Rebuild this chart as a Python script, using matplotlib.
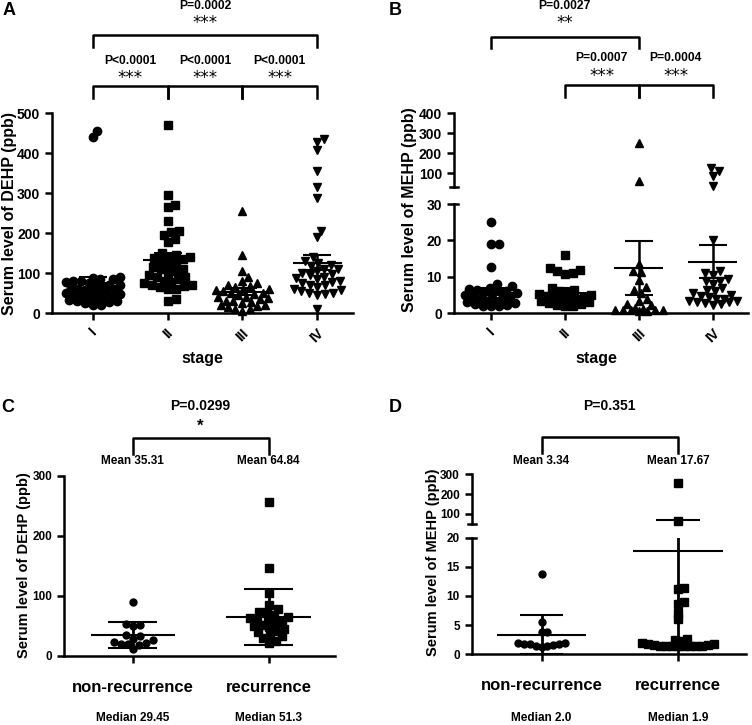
import numpy as np
import matplotlib
matplotlib.use("Agg")
import matplotlib.pyplot as plt
from matplotlib.transforms import blended_transform_factory

plt.rcParams['font.family'] = ['Liberation Sans', 'DejaVu Sans']
plt.rcParams['font.weight'] = 'bold'
plt.rcParams['axes.linewidth'] = 1.8

# ---- data ----
stages = ['I', 'II', 'III', 'IV']

dehp_I = [456, 440, 90, 88, 87, 85, 82, 80, 78, 75, 72, 70, 68, 66, 64, 62, 60, 58,
          56, 55, 53, 50, 48, 46, 44, 42, 40, 38, 36, 34, 32, 30, 28, 25, 22, 20]
dehp_II = [470, 295, 272, 265, 232, 205, 203, 195, 186, 178, 152, 145, 142, 140, 138,
           135, 130, 125, 120, 115, 112, 110, 105, 100, 95, 92, 90, 85, 80, 78, 75, 72,
           70, 68, 65, 62, 60, 35, 30]
dehp_III = [255, 145, 105, 92, 80, 75, 70, 68, 65, 62, 60, 58, 55, 52, 50, 48, 45, 42,
            40, 38, 35, 32, 30, 28, 25, 22, 20, 18, 15, 12, 10, 5]
dehp_IV = [435, 428, 408, 355, 315, 288, 207, 190, 140, 130, 125, 120, 118, 112, 110,
           105, 100, 98, 95, 92, 88, 85, 80, 78, 75, 72, 70, 65, 62, 58, 55, 52, 50, 48,
           45, 12]
dehp_mean = [76, 133, 54, 127]
dehp_lo = [62, 117, 46, 108]
dehp_hi = [90, 150, 63, 146]

mehp_I = [25, 19, 19, 12.8, 8, 7.5, 7, 6.8, 6.5, 6.2, 6, 5.8, 5.5, 5.2, 5, 4.8, 4.5,
          4, 3.8, 3.5, 3.2, 3, 2.8, 2.5, 2.3, 2.1, 2, 2]
mehp_II = [16, 12.3, 12, 11.5, 11, 10.8, 7, 6.5, 6, 5.5, 5.2, 5, 4.8, 4.5, 4.2, 4, 3.8,
           3.5, 3.3, 3, 2.8, 2.5, 2.3, 2.1, 2]
mehp_III = [253, 63, 13.6, 11.7, 11.2, 9.2, 7.1, 6.3, 5.5, 4, 3.5, 2.6, 2.2, 1.5, 1.2,
            1, 1, 0.9, 0.8, 0.8, 0.7, 0.6]
mehp_IV = [125, 112, 85, 35, 20, 11.5, 11, 10.5, 9.5, 9, 8.8, 8, 7, 6.5, 6, 5.5, 5, 4.8,
           4.5, 4, 3.8, 3.5, 3.3, 3, 3, 2.8, 2.5, 2.2]
mehp_mean = [5.6, 5.6, 12.4, 14.1]
mehp_lo = [4.2, 4.3, 5.1, 9.7]
mehp_hi = [7.0, 7.0, 19.8, 18.7]

groups = ['non-recurrence', 'recurrence']
dehp_nonrec = [90, 54, 52, 50, 35, 34, 29, 26, 24, 21, 20, 20, 19, 11]
dehp_rec = [257, 146, 104, 85, 78, 74, 73, 68, 65, 63, 62, 60, 58, 55, 52, 50, 48, 45,
            42, 40, 36, 33, 30, 25, 22]
dehp_rec_mean = [35.31, 64.84]
dehp_rec_lo = [13, 18]
dehp_rec_hi = [56, 112]
dehp_rec_median = ['Median 29.45', 'Median 51.3']

mehp_nonrec = [13.7, 5.5, 3.9, 3.8, 2.0, 1.9, 1.8, 1.7, 1.7, 1.6, 1.5, 1.5, 1.3]
mehp_rec = [258, 65, 11.3, 11.2, 9.0, 8.7, 7.1, 6.0, 2.7, 2.4, 2.2, 1.9, 1.8, 1.6,
            1.5, 1.5, 1.5, 1.4, 1.4, 1.4, 1.4, 1.5, 1.6, 1.8]
mehp_rec_mean = [3.34, 17.67]
mehp_rec_lo = [0, -35]
mehp_rec_hi = [6.7, 70]
mehp_rec_median = ['Median 2.0', 'Median 1.9']

# ---- layout helpers (pixel coords, origin top-left) ----
W, H = 752, 725
fig = plt.figure(figsize=(W / 100, H / 100), dpi=100)


def box(x0, y0, x1, y1):
    return [x0 / W, 1 - y1 / H, (x1 - x0) / W, (y1 - y0) / H]


def fy(py):
    return 1 - py / H


def swarm(vals, ppu, ppc, d, maxw):
    vals = np.asarray(vals, float)
    order = np.argsort(vals)
    placed = []
    offs = np.zeros(len(vals))
    cands = [0.0]
    for s in np.arange(1, maxw * ppc + 0.01, 1.0):
        cands += [s, -s]
    for i in order:
        y = vals[i] * ppu
        best, bestd = 0.0, -1
        for c in cands:
            md = min((np.hypot(c - px, y - py) for px, py in placed), default=1e9)
            if md >= d:
                best = c
                break
            if md > bestd:
                bestd, best = md, c
        placed.append((best, y))
        offs[i] = best / ppc
    return offs


def dots(ax, x, vals, marker, ms, ppu, ppc, d, maxw, clip=False):
    offs = swarm(vals, ppu, ppc, d, maxw)
    ax.plot(x + offs, vals, ls='none', marker=marker, ms=ms, color='k',
            mec='k', clip_on=clip, zorder=3)


def stats(ax, x, mean, lo, hi, mw, cw, lwm=1.5, lwb=1.8):
    kw = dict(color='k', zorder=4, solid_capstyle='butt')
    ax.plot([x - mw, x + mw], [mean, mean], lw=lwm, **kw)
    ax.plot([x, x], [lo, hi], lw=lwb, **kw)
    ax.plot([x - cw, x + cw], [lo, lo], lw=lwm, **kw)
    ax.plot([x - cw, x + cw], [hi, hi], lw=lwm, **kw)


def bracket(ax, x0, x1, ytop, ybot):
    tr = blended_transform_factory(ax.transData, fig.transFigure)
    ax.plot([x0, x0, x1, x1], [fy(ybot), fy(ytop), fy(ytop), fy(ybot)],
            transform=tr, color='k', lw=1.8, clip_on=False)


def label(ax, x, py, s, size, **kw):
    tr = blended_transform_factory(ax.transData, fig.transFigure)
    ax.text(x, fy(py), s, transform=tr, ha='center', va='center', fontsize=size, **kw)


def stars(ax, x, py, n):
    label(ax, x, py + 2, '*' * n, 12, fontweight='normal', family='DejaVu Sans')


def style(ax, size):
    for s in ['top', 'right']:
        ax.spines[s].set_visible(False)
    ax.tick_params(width=1.8, length=5, labelsize=size)


def breakmarks(ax_up, ax_lo):
    ax_up.plot([-0.014, 0.014], [0, 0], transform=ax_up.transAxes, color='k', lw=1.8,
               clip_on=False)
    ax_lo.plot([0, 0.014], [1, 1], transform=ax_lo.transAxes, color='k', lw=1.8,
               clip_on=False)


markers = ['o', 's', '^', 'v']
sizes = [6, 5.3, 6, 6]

# ---- A ----
axA = fig.add_axes(box(52, 113.3, 353, 313.3))
style(axA, 10)
axA.set_xlim(-0.55, 3.48)
axA.set_ylim(0, 500)
axA.set_yticks([0, 100, 200, 300, 400, 500])
for i, v in enumerate([dehp_I, dehp_II, dehp_III, dehp_IV]):
    dots(axA, i, v, markers[i], sizes[i], 0.4, 75, 7.5, 0.36)
    stats(axA, i, dehp_mean[i], dehp_lo[i], dehp_hi[i], 0.33, 0.19)
axA.set_xticks(range(4))
axA.set_xticklabels(stages, rotation=45, fontsize=10)
axA.tick_params(axis='x', pad=4)
bracket(axA, 0, 3, 35, 47)
label(axA, 1.5, 6, 'P=0.0002', 8.7)
stars(axA, 1.5, 21, 3)
for a, b in [(0, 1), (1, 2), (2, 3)]:
    bracket(axA, a, b, 86, 98)
    label(axA, (a + b) / 2, 61, 'P<0.0001', 8.7)
    stars(axA, (a + b) / 2, 76, 3)
fig.text(10 / W, fy(213), 'Serum level of DEHP (ppb)', rotation=90, ha='center',
         va='center', fontsize=11.5)
fig.text(202 / W, fy(358), 'stage', ha='center', va='center', fontsize=11.5)
fig.text(3 / W, fy(2), 'A', ha='left', va='top', fontsize=13)

# ---- B (broken axis) ----
Bx0, Bx1 = 453.7, 747.7
axBl = fig.add_axes(box(Bx0, 204, Bx1, 313.3))
axBu = fig.add_axes(box(Bx0, 113.3, Bx1, 187.3))
for ax in (axBl, axBu):
    style(ax, 10)
    ax.set_xlim(-0.5, 3.47)
axBl.set_ylim(0, 30)
axBl.set_yticks([0, 10, 20, 30])
axBu.set_ylim(30, 400)
axBu.set_yticks([100, 200, 300, 400])
axBu.spines['bottom'].set_visible(False)
axBu.tick_params(axis='x', bottom=False, labelbottom=False)
for i, v in enumerate([mehp_I, mehp_II, mehp_III, mehp_IV]):
    v = np.asarray(v)
    dots(axBl, i, v[v <= 30], markers[i], sizes[i], 3.64, 74, 7.5, 0.36)
    if (v > 30).any():
        dots(axBu, i, v[v > 30], markers[i], sizes[i], 0.2, 74, 7.5, 0.36)
    stats(axBl, i, mehp_mean[i], mehp_lo[i], mehp_hi[i], 0.33, 0.19)
breakmarks(axBu, axBl)
axBl.set_xticks(range(4))
axBl.set_xticklabels(stages, rotation=45, fontsize=10)
axBl.tick_params(axis='x', pad=4)
bracket(axBl, 0, 2, 37, 48)
label(axBl, 1, 6, 'P=0.0027', 8.7)
stars(axBl, 1, 21, 2)
for a, b, p in [(1, 2, 'P=0.0007'), (2, 3, 'P=0.0004')]:
    bracket(axBl, a, b, 85, 97)
    label(axBl, (a + b) / 2, 58, p, 8.7)
    stars(axBl, (a + b) / 2, 74, 3)
fig.text(409 / W, fy(210), 'Serum level of MEHP (ppb)', rotation=90, ha='center',
         va='center', fontsize=11.5)
fig.text(596 / W, fy(358), 'stage', ha='center', va='center', fontsize=11.5)
fig.text(389 / W, fy(2), 'B', ha='left', va='top', fontsize=13)

# ---- C ----
axC = fig.add_axes(box(64, 475.7, 335, 656))
style(axC, 8.5)
axC.set_xlim(-0.507, 1.49)
axC.set_ylim(0, 300)
axC.set_yticks([0, 100, 200, 300])
dots(axC, 0, dehp_nonrec, 'o', 5, 0.6, 135.6, 7, 0.26)
dots(axC, 1, dehp_rec, 's', 5.3, 0.6, 135.6, 7, 0.26)
for i in range(2):
    stats(axC, i, dehp_rec_mean[i], dehp_rec_lo[i], dehp_rec_hi[i], 0.31, 0.18, 1.5, 2.0)
axC.set_xticks([0, 1])
axC.set_xticklabels(groups, fontsize=12)
axC.tick_params(axis='x', pad=12)
bracket(axC, 0, 1, 438, 454)
label(axC, 0.5, 406, 'P=0.0299', 10)
label(axC, 0.5, 426, '*', 12)
for i in range(2):
    label(axC, i, 461, 'Mean %.2f' % dehp_rec_mean[i], 8.5)
    label(axC, i, 718, dehp_rec_median[i], 8.5)
fig.text(24 / W, fy(565), 'Serum level of DEHP (ppb)', rotation=90, ha='center',
         va='center', fontsize=10.5)
fig.text(1 / W, fy(399), 'C', ha='left', va='top', fontsize=13)

# ---- D (broken axis) ----
Dx0, Dx1 = 471.7, 746
axDl = fig.add_axes(box(Dx0, 537.7, Dx1, 654.3))
axDu = fig.add_axes(box(Dx0, 474.3, Dx1, 523.9))
for ax in (axDl, axDu):
    style(ax, 8.5)
    ax.set_xlim(-0.512, 1.5)
axDl.set_ylim(0, 20)
axDl.set_yticks([0, 5, 10, 15, 20])
axDu.set_ylim(50, 300)
axDu.set_yticks([100, 200, 300])
axDu.spines['bottom'].set_visible(False)
axDu.tick_params(axis='x', bottom=False, labelbottom=False)
for i, (v, m, ms) in enumerate([(mehp_nonrec, 'o', 5), (mehp_rec, 's', 5.3)]):
    v = np.asarray(v)
    dots(axDl, i, v[v <= 20], m, ms, 5.83, 136.6, 6, 0.3)
    if (v > 20).any():
        dots(axDu, i, v[v > 20], m, ms, 0.198, 136.6, 6, 0.3)
    for ax in (axDl, axDu):
        stats(ax, i, mehp_rec_mean[i], mehp_rec_lo[i], mehp_rec_hi[i], 0.33, 0.16, 1.5, 2.0)
breakmarks(axDu, axDl)
axDl.set_xticks([0, 1])
axDl.set_xticklabels(groups, fontsize=12)
axDl.tick_params(axis='x', pad=12)
bracket(axDl, 0, 1, 437, 453)
label(axDl, 0.5, 406, 'P=0.351', 10)
for i in range(2):
    label(axDl, i, 461, 'Mean %.2f' % mehp_rec_mean[i], 8.5)
    label(axDl, i, 718, mehp_rec_median[i], 8.5)
fig.text(433 / W, fy(562), 'Serum level of MEHP (ppb)', rotation=90, ha='center',
         va='center', fontsize=10.5)
fig.text(389 / W, fy(399), 'D', ha='left', va='top', fontsize=13)

fig.savefig('out.png', dpi=100)
